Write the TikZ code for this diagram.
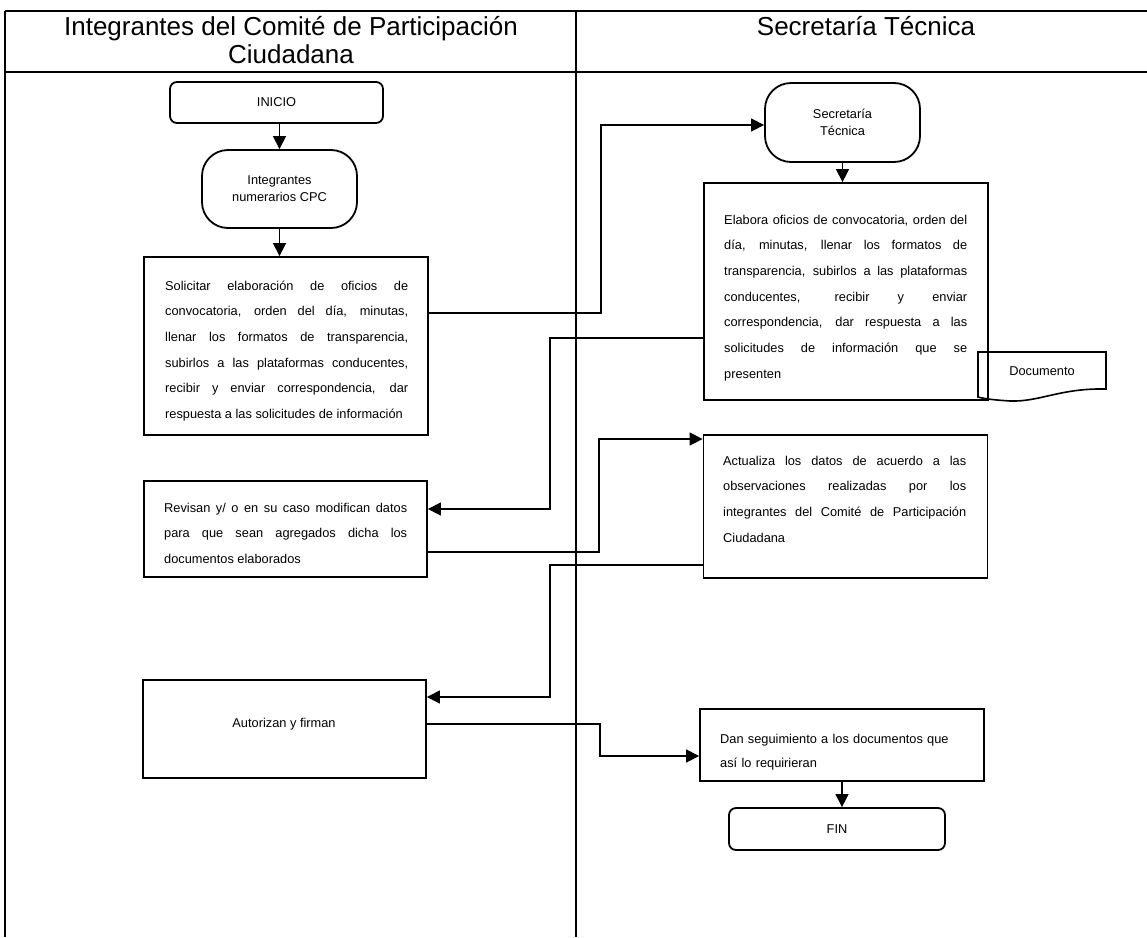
\documentclass[tikz,border=0pt]{standalone}
\usepackage{fontspec}
\setmainfont{Liberation Sans}
\usetikzlibrary{arrows.meta}

% type sizes: lane headers, box texts (double spaced), terminator labels
\newcommand\hdrfont{\fontsize{26}{28}\selectfont}
\newcommand\procfont{\fontsize{12.8}{25.7}\selectfont\tolerance=10000\hyphenpenalty=10000\relax}
\newcommand\danfont{\fontsize{12.8}{24}\selectfont}
\newcommand\termfont{\fontsize{12.8}{17}\selectfont}

\tikzset{
  lane/.style={line width=1.3pt},
  procbox/.style={draw, line width=1.8pt, inner sep=0pt},
  startstop/.style={draw, line width=1.8pt, rounded corners=7pt, inner sep=0pt, font=\termfont},
  actor/.style={draw, line width=1.8pt, rounded corners=26pt, inner sep=0pt, align=center, font=\termfont},
  bodytext/.style={inner sep=0pt, text width=243pt, align=justify, anchor=base west, font=\procfont},
  plain/.style={inner sep=0pt, anchor=base, font=\termfont},
  hdr/.style={inner sep=0pt, anchor=base, font=\hdrfont},
  flow/.style={line width=1.3pt, -{Triangle[length=13pt,width=13pt]}}
}

\begin{document}
\begin{tikzpicture}[x=1pt, y=-1pt]
\useasboundingbox (0,0) rectangle (1147,937);

% swimlane frame
\draw[lane] (5,11) -- (1147,11);
\draw[lane] (5,72) -- (1147,72);
\draw[lane] (5,11) -- (5,937);
\draw[lane] (576,11) -- (576,937);

% lane headers
\node[hdr] (hdrLeftA) at (291,35.5) {Integrantes del Comité de Participación};
\node[hdr] (hdrLeftB) at (291,63) {Ciudadana};
\node[hdr] (hdrRight) at (866,35.5) {Secretaría Técnica};

% left lane
\node[startstop, minimum width=213pt, minimum height=41pt] (inicio) at (276.5,102.5) {INICIO};
\node[actor, minimum width=155pt, minimum height=78pt] (cpc) at (279.5,189) {Integrantes\\numerarios CPC};
\node[procbox, minimum width=284pt, minimum height=178pt] (solicitar) at (286,346) {};
\node[bodytext] (solicitarTxt) at (165,290) {Solicitar elaboración de oficios de\linebreak
  convocatoria, orden del día, minutas,\linebreak
  llenar los formatos de transparencia,\linebreak
  subirlos a las plataformas conducentes,\linebreak
  recibir y enviar correspondencia, dar\linebreak
  respuesta a las solicitudes de información};
\node[procbox, minimum width=283pt, minimum height=96pt] (revisan) at (285.5,529) {};
\node[bodytext] (revisanTxt) at (164,512) {Revisan y/ o en su caso modifican datos\linebreak
  para que sean agregados dicha los\linebreak
  documentos elaborados};
\node[procbox, minimum width=283pt, minimum height=98pt] (autorizan) at (284.5,729) {};
\node[plain] (autorizanTxt) at (284,727) {Autorizan y firman};

% right lane
\node[actor, minimum width=155pt, minimum height=79pt] (st) at (842.5,122.5) {Secretaría\\Técnica};
\node[procbox, minimum width=284pt, minimum height=217pt] (elabora) at (846,291.5) {};
\node[bodytext] (elaboraTxt) at (724,224) {Elabora oficios de convocatoria, orden del\linebreak
  día, minutas, llenar los formatos de\linebreak
  transparencia, subirlos a las plataformas\linebreak
  conducentes, recibir y enviar\linebreak
  correspondencia, dar respuesta a las\linebreak
  solicitudes de información que se\linebreak
  presenten};
\draw[line width=1.6pt] (978,352) -- (1106,352) -- (1106,389)
  .. controls (1060,388) and (1040,402) .. (1010,401)
  .. controls (995,400) and (985,399) .. (978,397) -- cycle;
\node[plain] (documento) at (1042,375) {Documento};
\node[procbox, minimum width=284pt, minimum height=143pt] (actualiza) at (845.5,506.5) {};
\node[bodytext] (actualizaTxt) at (723,465) {Actualiza los datos de acuerdo a las\linebreak
  observaciones realizadas por los\linebreak
  integrantes del Comité de Participación\linebreak
  Ciudadana};
\node[procbox, minimum width=284pt, minimum height=72pt] (dan) at (842,745) {};
\node[bodytext, align=left, text width=240pt, font=\danfont] (danTxt) at (720,743) {Dan seguimiento a los documentos que\\
  así lo requirieran};
\node[startstop, minimum width=216pt, minimum height=42pt] (fin) at (837,829) {FIN};

% connectors
\draw[flow] (inicio.south -| cpc.north) -- (cpc.north);
\draw[flow] (cpc.south) -- (cpc.south |- solicitar.north);
\draw[flow] ([yshift=33pt]solicitar.east) -- ++(172,0) |- ([yshift=-2.5pt]st.west);
\draw[flow] (st.south) -- (st.south |- elabora.north);
\draw[flow] ([yshift=-46.5pt]elabora.west) -- ++(-153,0) |- ([yshift=20pt]revisan.east);
\draw[flow] ([yshift=-23pt]revisan.east) -- ++(171,0) |- ([yshift=67.5pt]actualiza.west);
\draw[flow] ([yshift=-58.5pt]actualiza.west) -- ++(-152.5,0) |- ([yshift=32pt]autorizan.east);
\draw[flow] ([yshift=5pt]autorizan.east) -- ++(173,0) |- ([yshift=-11pt]dan.west);
\draw[flow] (dan.south) -- (dan.south |- fin.north);
\end{tikzpicture}
\end{document}
